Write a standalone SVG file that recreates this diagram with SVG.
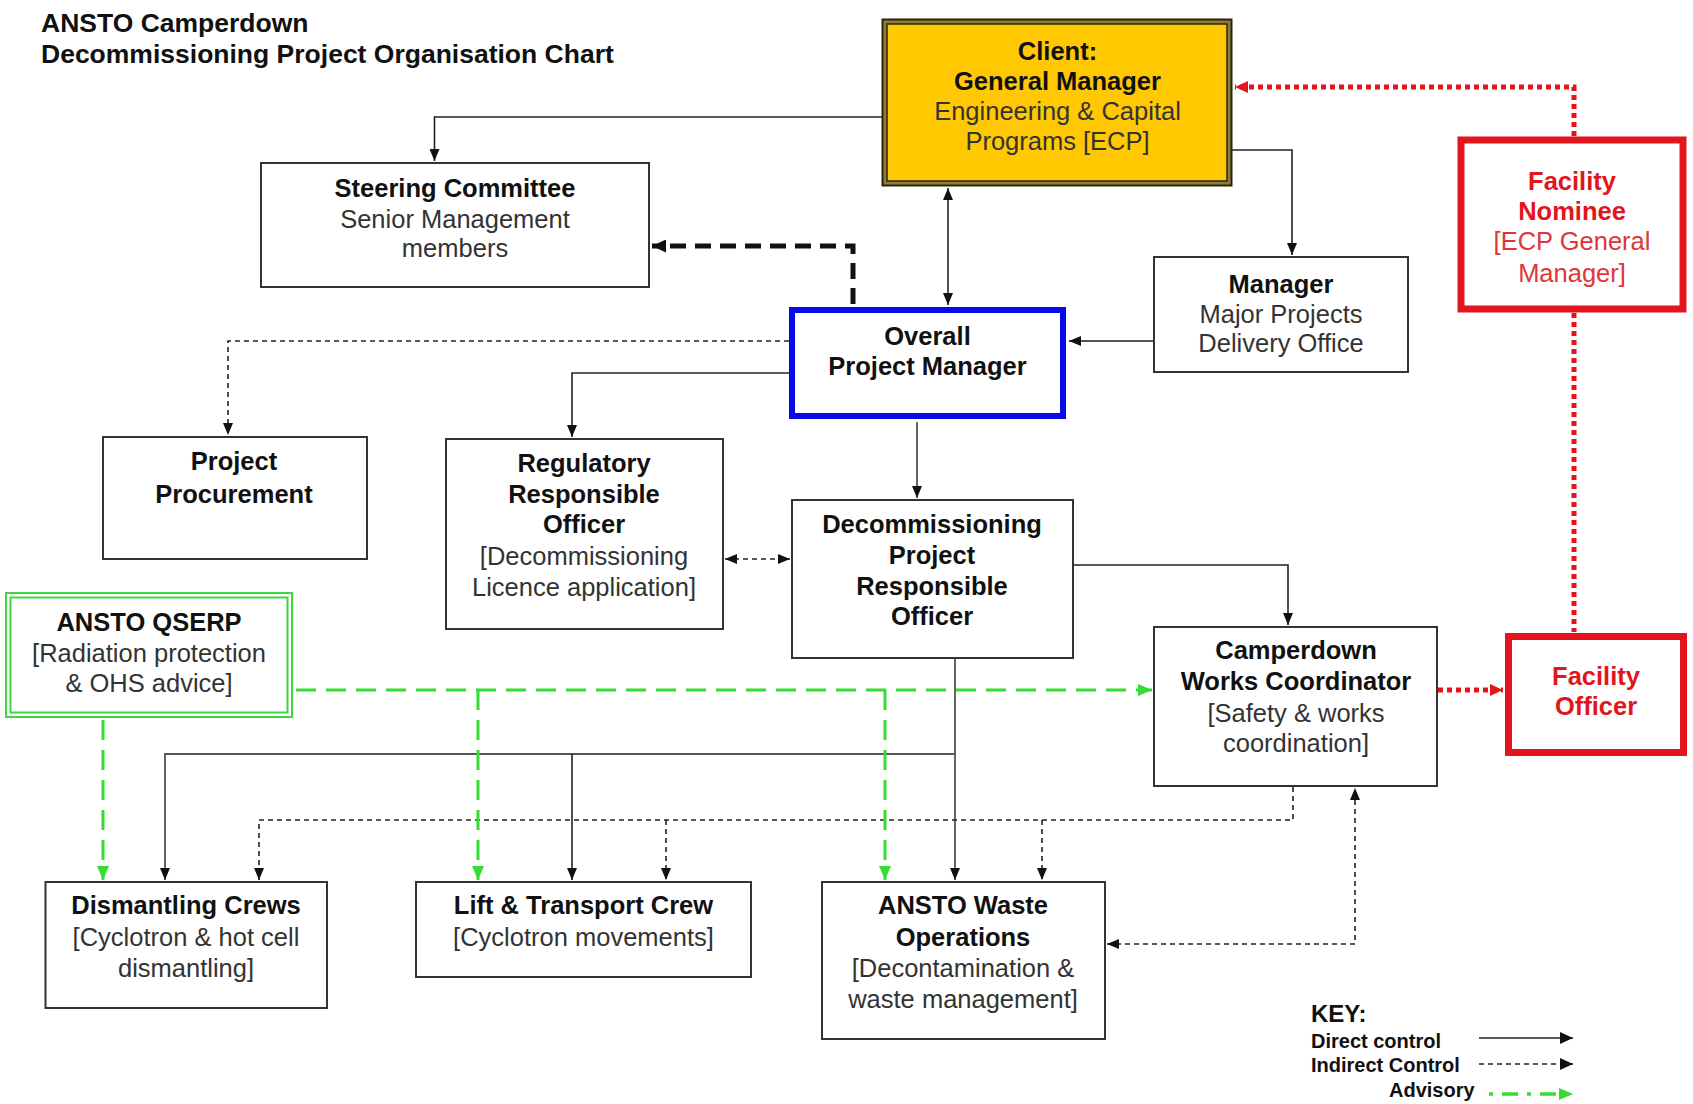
<svg xmlns="http://www.w3.org/2000/svg" width="1693" height="1104" viewBox="0 0 1693 1104">
<style>
text{font-family:"Liberation Sans",Arial,sans-serif;text-anchor:middle}
.t{font-size:26.5px;font-weight:bold;fill:#111;text-anchor:start}
.b{font-size:25.5px;font-weight:bold;fill:#111}
.r{font-size:25.5px;fill:#333}
.rb{font-size:25.5px;font-weight:bold;fill:#e3141b}
.rr{font-size:25.5px;fill:#e2343a}
.k{font-size:20px;font-weight:bold;fill:#111;text-anchor:start}
.box{fill:#fff;stroke:#333;stroke-width:2}
.ln{fill:none;stroke:#222;stroke-width:1.6}
.gl{fill:none;stroke:#555;stroke-width:1.8}
.dl{fill:none;stroke:#222;stroke-width:1.6;stroke-dasharray:5 4}
.thick{fill:none;stroke:#111;stroke-width:5;stroke-dasharray:16 9}
.grn{fill:none;stroke:#33dd33;stroke-width:3;stroke-dasharray:20 10}
.red{fill:none;stroke:#e3141b;stroke-width:5;stroke-dasharray:5 4}
</style>
<defs>
<marker id="a" markerUnits="userSpaceOnUse" markerWidth="12" markerHeight="10" refX="12" refY="5" orient="auto-start-reverse"><path d="M0,0 L12,5 L0,10 z" fill="#111"/></marker>
<marker id="ak" markerUnits="userSpaceOnUse" markerWidth="13" markerHeight="12" refX="13" refY="6" orient="auto"><path d="M0,0 L13,6 L0,12 z" fill="#111"/></marker>
<marker id="at" markerUnits="userSpaceOnUse" markerWidth="14" markerHeight="13" refX="14" refY="6.5" orient="auto"><path d="M0,0 L14,6.5 L0,13 z" fill="#111"/></marker>
<marker id="ag" markerUnits="userSpaceOnUse" markerWidth="14" markerHeight="12" refX="14" refY="6" orient="auto"><path d="M0,0 L14,6 L0,12 z" fill="#33dd33"/></marker>
<marker id="ar" markerUnits="userSpaceOnUse" markerWidth="13" markerHeight="12" refX="13" refY="6" orient="auto"><path d="M0,0 L13,6 L0,12 z" fill="#e3141b"/></marker>
</defs>
<rect width="1693" height="1104" fill="#fff"/>
<g id="title">
<text class="t" x="41" y="32">ANSTO Camperdown</text>
<text class="t" x="41" y="63">Decommissioning Project Organisation Chart</text>
</g>
<g id="connectors">
<path class="ln" d="M883,117 H434.5 V161" marker-end="url(#a)"/>
<path class="ln" d="M948,188 V305" marker-start="url(#a)" marker-end="url(#a)"/>
<path class="ln" d="M1232,150 H1292 V255" marker-end="url(#a)"/>
<path class="gl" d="M1154,341 H1069" marker-end="url(#a)"/>
<path class="thick" d="M853,304 V246 H652" marker-end="url(#at)"/>
<path class="dl" d="M789,341 H228 V435" marker-end="url(#a)"/>
<path class="ln" d="M789,373 H572 V437" marker-end="url(#a)"/>
<path class="gl" d="M917,422 V498" marker-end="url(#a)"/>
<path class="dl" d="M725,559 H790" marker-start="url(#a)" marker-end="url(#a)"/>
<path class="ln" d="M1073,565 H1288 V625" marker-end="url(#a)"/>
<path class="gl" d="M955,659 V880" marker-end="url(#a)"/>
<path class="gl" d="M955,754 H165 V880" marker-end="url(#a)"/>
<path class="ln" d="M572,754 V880" marker-end="url(#a)"/>
<path class="dl" d="M1293,787 V820 H259 V880" marker-end="url(#a)"/>
<path class="dl" d="M666,820 V880" marker-end="url(#a)"/>
<path class="dl" d="M1042,820 V880" marker-end="url(#a)"/>
<path class="dl" d="M1107,944 H1355 V788" marker-start="url(#a)" marker-end="url(#a)"/>
<path class="grn" d="M296,690 H1152" marker-end="url(#ag)"/>
<path class="grn" d="M103,720 V880" marker-end="url(#ag)"/>
<path class="grn" d="M478,690 V880" marker-end="url(#ag)"/>
<path class="grn" d="M885,690 V880" marker-end="url(#ag)"/>
<path class="red" d="M1574,136 V87 H1235" marker-end="url(#ar)"/>
<path class="red" d="M1574,313 V632"/>
<path class="red" d="M1438,690 H1503" marker-end="url(#ar)"/>
</g>
<g id="client">
<rect x="884.5" y="21.5" width="345" height="162" fill="#ffc800" stroke="#8c7a40" stroke-width="5"/>
<rect x="882.5" y="19.5" width="349" height="166" fill="none" stroke="#2e2600" stroke-width="2"/>
<rect x="887" y="24" width="340" height="157" fill="none" stroke="#2e2600" stroke-width="1.5"/>
<text class="b" x="1057.5" y="60">Client:</text>
<text class="b" x="1057.5" y="90">General Manager</text>
<text class="r" x="1057.5" y="120">Engineering &amp; Capital</text>
<text class="r" x="1057.5" y="150">Programs [ECP]</text>
</g>
<g id="steering">
<rect class="box" x="261" y="163" width="388" height="124"/>
<text class="b" x="455" y="197">Steering Committee</text>
<text class="r" x="455" y="228">Senior Management</text>
<text class="r" x="455" y="257">members</text>
</g>
<g id="opm">
<rect x="792" y="310" width="271" height="106" fill="#fff" stroke="#0a0ae6" stroke-width="6"/>
<text class="b" x="927.5" y="345">Overall</text>
<text class="b" x="927.5" y="375">Project Manager</text>
</g>
<g id="manager">
<rect class="box" x="1154" y="257" width="254" height="115"/>
<text class="b" x="1281" y="293">Manager</text>
<text class="r" x="1281" y="323">Major Projects</text>
<text class="r" x="1281" y="352">Delivery Office</text>
</g>
<g id="nominee">
<rect x="1461" y="140" width="222" height="169" fill="#fff" stroke="#e3141b" stroke-width="7"/>
<text class="rb" x="1572" y="190">Facility</text>
<text class="rb" x="1572" y="220">Nominee</text>
<text class="rr" x="1572" y="250">[ECP General</text>
<text class="rr" x="1572" y="282">Manager]</text>
</g>
<g id="procurement">
<rect class="box" x="103" y="437" width="264" height="122"/>
<text class="b" x="234" y="470">Project</text>
<text class="b" x="234" y="503">Procurement</text>
</g>
<g id="regulatory">
<rect class="box" x="446" y="439" width="277" height="190"/>
<text class="b" x="584" y="472">Regulatory</text>
<text class="b" x="584" y="503">Responsible</text>
<text class="b" x="584" y="533">Officer</text>
<text class="r" x="584" y="565">[Decommissioning</text>
<text class="r" x="584" y="596">Licence application]</text>
</g>
<g id="dpro">
<rect class="box" x="792" y="500" width="281" height="158"/>
<text class="b" x="932" y="533">Decommissioning</text>
<text class="b" x="932" y="564">Project</text>
<text class="b" x="932" y="595">Responsible</text>
<text class="b" x="932" y="625">Officer</text>
</g>
<g id="cwc">
<rect class="box" x="1154" y="627" width="283" height="159"/>
<text class="b" x="1296" y="659">Camperdown</text>
<text class="b" x="1296" y="690">Works Coordinator</text>
<text class="r" x="1296" y="722">[Safety &amp; works</text>
<text class="r" x="1296" y="752">coordination]</text>
</g>
<g id="facility-officer">
<rect x="1508.5" y="636.5" width="175" height="116" fill="#fff" stroke="#e3141b" stroke-width="7"/>
<text class="rb" x="1596" y="685">Facility</text>
<text class="rb" x="1596" y="715">Officer</text>
</g>
<g id="qserp">
<rect x="6" y="593" width="286" height="124" fill="#fff" stroke="#3ed63e" stroke-width="2"/>
<rect x="10.5" y="597.5" width="277" height="115" fill="none" stroke="#3ed63e" stroke-width="2"/>
<text class="b" x="149" y="631">ANSTO QSERP</text>
<text class="r" x="149" y="662">[Radiation protection</text>
<text class="r" x="149" y="692">&amp; OHS advice]</text>
</g>
<g id="dismantling">
<rect class="box" x="45.5" y="882" width="281.5" height="126"/>
<text class="b" x="186" y="914">Dismantling Crews</text>
<text class="r" x="186" y="946">[Cyclotron &amp; hot cell</text>
<text class="r" x="186" y="977">dismantling]</text>
</g>
<g id="lift">
<rect class="box" x="416" y="882" width="335" height="95"/>
<text class="b" x="583.5" y="914">Lift &amp; Transport Crew</text>
<text class="r" x="583.5" y="946">[Cyclotron movements]</text>
</g>
<g id="waste">
<rect class="box" x="822" y="882" width="283" height="157"/>
<text class="b" x="963" y="914">ANSTO Waste</text>
<text class="b" x="963" y="946">Operations</text>
<text class="r" x="963" y="977">[Decontamination &amp;</text>
<text class="r" x="963" y="1008">waste management]</text>
</g>
<g id="key">
<text class="k" x="1311" y="1022" style="font-size:24px">KEY:</text>
<text class="k" x="1311" y="1048">Direct control</text>
<text class="k" x="1311" y="1072">Indirect Control</text>
<text class="k" x="1389" y="1097">Advisory</text>
<path class="ln" d="M1479,1038 H1573" marker-end="url(#ak)"/>
<path class="dl" d="M1479,1064 H1573" marker-end="url(#ak)"/>
<path fill="none" stroke="#33dd33" stroke-width="3.5" stroke-dasharray="4 9 16 9" d="M1489,1094 H1573" marker-end="url(#ag)"/>
</g>
</svg>
